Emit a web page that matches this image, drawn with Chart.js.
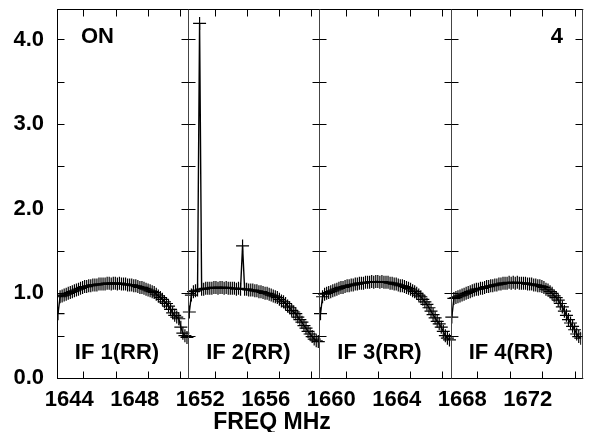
<!DOCTYPE html>
<html>
<head>
<meta charset="utf-8">
<title>POSSM IF 1-4</title>
<script src="https://cdn.jsdelivr.net/npm/chart.js@4.4.1/dist/chart.umd.min.js"></script>
<style>
    html, body { margin: 0; padding: 0; background: #fff; }
    .chart-box { position: relative; width: 589px; height: 432px; }
</style>
</head>
<body>
<div class="chart-box">
    <canvas id="possmChart" width="589" height="432"></canvas>
</div>
<script>
// Start frequency (MHz) of each IF and channel width
const ifStart = [1643.25, 1651.27, 1659.28, 1667.30];
const chanWidth = 0.125;
const panelEdges = [1643.25, 1651.27, 1659.28, 1667.30, 1675.33];
const panelNames = ['IF 1(RR)', 'IF 2(RR)', 'IF 3(RR)', 'IF 4(RR)'];

// Amplitudes per channel
const if1Amp = [0.76, 0.96, 0.97, 0.98, 0.99, 1.00, 1.01, 1.02, 1.03, 1.04, 1.05, 1.06, 1.07, 1.08, 1.08, 1.09,
    1.09, 1.10, 1.10, 1.10, 1.11, 1.11, 1.11, 1.11, 1.12, 1.12, 1.11, 1.12, 1.12, 1.11, 1.12, 1.11,
    1.11, 1.11, 1.10, 1.10, 1.10, 1.09, 1.09, 1.08, 1.07, 1.07, 1.06, 1.05, 1.04, 1.03, 1.02, 1.01,
    0.99, 0.97, 0.95, 0.93, 0.90, 0.88, 0.85, 0.81, 0.77, 0.74, 0.72, 0.70, 0.60, 0.53, 0.50, 0.48];
const if2Amp = [0.78, 0.98, 1.02, 1.03, 1.04, 4.19, 1.05, 1.05, 1.06, 1.06, 1.06, 1.06, 1.07, 1.07, 1.06, 1.07,
    1.07, 1.06, 1.07, 1.06, 1.06, 1.06, 1.06, 1.05, 1.06, 1.05, 1.56, 1.05, 1.05, 1.04, 1.04, 1.04,
    1.03, 1.03, 1.02, 1.02, 1.01, 1.00, 1.00, 0.99, 0.98, 0.97, 0.96, 0.95, 0.93, 0.91, 0.90, 0.88,
    0.85, 0.83, 0.80, 0.78, 0.76, 0.72, 0.69, 0.66, 0.62, 0.59, 0.55, 0.52, 0.49, 0.46, 0.44, 0.43];
const if3Amp = [0.76, 0.96, 0.99, 1.00, 1.01, 1.02, 1.03, 1.04, 1.05, 1.06, 1.07, 1.07, 1.08, 1.09, 1.09, 1.10,
    1.10, 1.11, 1.11, 1.12, 1.12, 1.12, 1.13, 1.13, 1.13, 1.14, 1.13, 1.14, 1.14, 1.13, 1.14, 1.13,
    1.13, 1.13, 1.12, 1.12, 1.11, 1.11, 1.10, 1.09, 1.09, 1.08, 1.07, 1.06, 1.05, 1.03, 1.02, 1.00,
    0.98, 0.96, 0.93, 0.90, 0.87, 0.83, 0.79, 0.75, 0.71, 0.67, 0.64, 0.60, 0.55, 0.50, 0.47, 0.45];
const if4Amp = [0.72, 0.94, 0.95, 0.96, 0.97, 0.98, 0.99, 1.00, 1.01, 1.02, 1.03, 1.04, 1.05, 1.05, 1.06, 1.06,
    1.07, 1.08, 1.08, 1.09, 1.09, 1.10, 1.10, 1.11, 1.11, 1.12, 1.12, 1.12, 1.13, 1.12, 1.13, 1.12,
    1.13, 1.12, 1.12, 1.12, 1.12, 1.11, 1.11, 1.11, 1.10, 1.10, 1.09, 1.09, 1.08, 1.07, 1.05, 1.04,
    1.02, 1.00, 0.97, 0.95, 0.92, 0.88, 0.84, 0.79, 0.74, 0.69, 0.65, 0.61, 0.57, 0.52, 0.49, 0.47];

// Axis ticks
const yLabels = [0, 1, 2, 3, 4];
const yMinor = [0.5, 1.0, 1.5, 2.0, 2.5, 3.0, 3.5, 4.0];
const xLabels = [1644, 1648, 1652, 1656, 1660, 1664, 1668, 1672];
const xMinor = [1644.84, 1646.83, 1648.81, 1650.76, 1652.89, 1654.84, 1656.81, 1658.77,
    1660.90, 1662.86, 1664.83, 1666.77, 1668.88, 1670.89, 1672.85, 1674.86];

const FONT = "'Liberation Sans', Arial, sans-serif";

document.addEventListener('DOMContentLoaded', function () {
    createPossmChart();
});

function toPoints(start, amps) {
    return amps.map((v, i) => ({ x: start + (i + 0.5) * chanWidth, y: v }));
}

// Frames, inward ticks and panel texts (AIPS style)
const panelPlugin = {
    id: 'panelFrames',
    afterDraw(chart) {
        const ctx = chart.ctx;
        const xs = chart.scales.x;
        const ys = chart.scales.y;
        const area = chart.chartArea;
        const top = Math.round(area.top) + 0.5;
        const bottom = Math.round(area.bottom) + 0.5;
        const tick = 7;

        ctx.save();
        ctx.strokeStyle = '#000';
        ctx.lineWidth = 1;

        // top and bottom lines
        ctx.beginPath();
        ctx.moveTo(area.left, top);
        ctx.lineTo(area.right + 2, top);
        ctx.moveTo(area.left, bottom);
        ctx.lineTo(area.right + 2, bottom);
        ctx.stroke();

        // panel edges with y ticks on both sides
        panelEdges.forEach((f, k) => {
            const px = Math.round(xs.getPixelForValue(f)) + 0.5;
            ctx.strokeStyle = k === 0 ? '#000' : '#444';
            ctx.beginPath();
            ctx.moveTo(px, top);
            ctx.lineTo(px, bottom);
            ctx.stroke();
            ctx.strokeStyle = '#000';
            ctx.beginPath();
            yMinor.forEach(v => {
                const py = Math.round(ys.getPixelForValue(v)) + 0.5;
                if (k < panelEdges.length - 1) {
                    ctx.moveTo(px, py);
                    ctx.lineTo(px + tick, py);
                }
                if (k > 0) {
                    ctx.moveTo(px - tick, py);
                    ctx.lineTo(px, py);
                }
            });
            ctx.stroke();
        });

        // x ticks at top and bottom
        ctx.beginPath();
        xMinor.forEach(f => {
            const px = Math.round(xs.getPixelForValue(f)) + 0.5;
            ctx.moveTo(px, top);
            ctx.lineTo(px, top + tick);
            ctx.moveTo(px, bottom);
            ctx.lineTo(px, bottom - tick);
        });
        ctx.stroke();

        // texts
        ctx.fillStyle = '#000';
        ctx.textBaseline = 'alphabetic';
        ctx.font = 'bold 22px ' + FONT;
        ctx.textAlign = 'center';
        panelNames.forEach((name, k) => {
            const left = xs.getPixelForValue(panelEdges[k]);
            ctx.fillText(name, left + 60, bottom - 20);
        });
        ctx.textAlign = 'left';
        ctx.fillText('ON', xs.getPixelForValue(panelEdges[0]) + 24, 43);
        ctx.textAlign = 'right';
        ctx.fillText('4', 563, 43);
        ctx.textAlign = 'center';
        ctx.font = 'bold 23px ' + FONT;
        ctx.fillText('FREQ MHz', 272, 429);
        ctx.restore();
    }
};

function createPossmChart() {
    const ctx = document.getElementById('possmChart').getContext('2d');
    const series = [if1Amp, if2Amp, if3Amp, if4Amp];

    new Chart(ctx, {
        type: 'line',
        data: {
            datasets: series.map((amps, k) => ({
                label: panelNames[k],
                data: toPoints(ifStart[k], amps),
                borderColor: '#000',
                borderWidth: 1.4,
                pointStyle: 'cross',
                pointRadius: 6.5,
                pointBorderWidth: 1.2,
                pointBorderColor: '#000',
                fill: false,
                tension: 0
            }))
        },
        options: {
            responsive: false,
            animation: false,
            devicePixelRatio: 1,
            layout: { padding: { top: 9, right: 0, left: 0, bottom: 0 } },
            plugins: {
                legend: { display: false },
                tooltip: { enabled: false }
            },
            scales: {
                x: {
                    type: 'linear',
                    min: 1643.25,
                    max: 1675.27,
                    grid: { display: false, drawTicks: false },
                    border: { display: false },
                    afterBuildTicks: s => { s.ticks = xLabels.map(v => ({ value: v })); },
                    afterFit: s => {
                        s.height = 54;
                        s.paddingLeft = 0;
                        s.paddingRight = 0;
                    },
                    ticks: {
                        padding: 9,
                        autoSkip: false,
                        maxRotation: 0,
                        color: '#000',
                        font: { family: FONT, size: 22, weight: 'bold' },
                        callback: v => String(v)
                    }
                },
                y: {
                    min: 0,
                    max: 4.36,
                    grid: { display: false, drawTicks: false },
                    border: { display: false },
                    afterBuildTicks: s => { s.ticks = yLabels.map(v => ({ value: v })); },
                    afterFit: s => {
                        s.width = 57;
                        s.paddingTop = 0;
                        s.paddingBottom = 0;
                    },
                    ticks: {
                        padding: 13,
                        color: '#000',
                        font: { family: FONT, size: 22, weight: 'bold' },
                        callback: v => Number(v).toFixed(1)
                    }
                }
            }
        },
        plugins: [panelPlugin]
    });
}
</script>
</body>
</html>
